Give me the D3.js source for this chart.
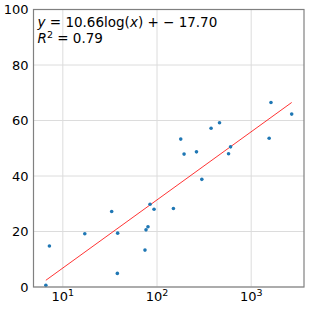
<!DOCTYPE html>
<html>
<head>
<meta charset="utf-8">
<script src="https://cdn.jsdelivr.net/npm/d3@7"></script>
<style>
  body { margin: 0; background: #fff; }
  svg { display: block; font-family: "DejaVu Sans", sans-serif; }
</style>
</head>
<body>
<div id="chart"></div>
<script>
// data
var xValues = [6.6, 7.2, 17.1, 33.0, 38.2, 37.9, 74.5, 76.4, 80.2, 84.3, 93.0, 149.3,
  178.6, 193.8, 262.4, 299, 375, 461, 575, 604, 1552, 1622, 2692];
var yValues = [0.6, 14.8, 19.2, 27.2, 19.4, 4.9, 13.3, 20.6, 21.7, 29.8, 28.0, 28.3,
  53.3, 47.9, 48.7, 38.8, 57.2, 59.2, 48.0, 50.5, 53.6, 66.5, 62.3];
var fitCoef = [10.66, -17.70]; // y = a*ln(x) + b
var rSquared = 0.79;
var xTicks = [10, 100, 1000];
var xTickExp = ['1', '2', '3'];
var yTicks = [0, 20, 40, 60, 80, 100];

var attrs = {
  svgWidth: 309,
  svgHeight: 309,
  marginTop: 9.5,
  marginLeft: 33.5,
  marginRight: 5,
  marginBottom: 22
};

var calc = {};
calc.chartWidth = attrs.svgWidth - attrs.marginLeft - attrs.marginRight;
calc.chartHeight = attrs.svgHeight - attrs.marginTop - attrs.marginBottom;

var points = xValues.map(function (x, i) { return { x: x, y: yValues[i] }; });

var scales = {};
scales.x = d3.scaleLog().domain([4.88, 3637]).range([0, calc.chartWidth]);
scales.y = d3.scaleLinear().domain([0, 100]).range([calc.chartHeight, 0]);

var svg = d3.select('#chart').append('svg')
  .attr('width', attrs.svgWidth)
  .attr('height', attrs.svgHeight);

var chart = svg.append('g')
  .attr('transform', 'translate(' + attrs.marginLeft + ',' + attrs.marginTop + ')');

// grid
chart.append('g').selectAll('line').data(xTicks).enter().append('line')
  .attr('x1', function (d) { return scales.x(d); })
  .attr('x2', function (d) { return scales.x(d); })
  .attr('y1', 0).attr('y2', calc.chartHeight)
  .attr('stroke', '#dcdcdc').attr('stroke-width', 1);
chart.append('g').selectAll('line').data(yTicks).enter().append('line')
  .attr('y1', function (d) { return scales.y(d); })
  .attr('y2', function (d) { return scales.y(d); })
  .attr('x1', 0).attr('x2', calc.chartWidth)
  .attr('stroke', '#dcdcdc').attr('stroke-width', 1);

// fit line
var xExt = d3.extent(xValues);
var fitLine = d3.line()
  .x(function (d) { return scales.x(d); })
  .y(function (d) { return scales.y(fitCoef[0] * Math.log(d) + fitCoef[1]); });
chart.append('path')
  .datum(xExt)
  .attr('d', fitLine)
  .attr('fill', 'none')
  .attr('stroke', '#ff0000')
  .attr('stroke-width', 0.8);

// points
chart.append('g').selectAll('circle').data(points).enter().append('circle')
  .attr('cx', function (d) { return scales.x(d.x); })
  .attr('cy', function (d) { return scales.y(d.y); })
  .attr('r', 1.8)
  .attr('fill', '#1f77b4');

// frame
chart.append('rect')
  .attr('width', calc.chartWidth).attr('height', calc.chartHeight)
  .attr('fill', 'none').attr('stroke', '#808080').attr('stroke-width', 1.2);

// y tick labels
chart.append('g').selectAll('text').data(yTicks).enter().append('text')
  .attr('x', -5)
  .attr('y', function (d) { return scales.y(d); })
  .attr('dy', '0.36em')
  .attr('text-anchor', 'end')
  .attr('font-size', 13)
  .attr('fill', '#000')
  .text(function (d) { return d; });

// x tick labels
var xl = chart.append('g').selectAll('text').data(xTicks).enter().append('text')
  .attr('x', function (d) { return scales.x(d); })
  .attr('y', calc.chartHeight + 14)
  .attr('text-anchor', 'middle')
  .attr('font-size', 13)
  .attr('fill', '#000');
xl.append('tspan').text('10');
xl.append('tspan').attr('dy', -5).attr('font-size', 9.5)
  .text(function (d, i) { return xTickExp[i]; });

// annotation
var ann = chart.append('g').attr('font-size', 13.5).attr('fill', '#000');
var l1 = ann.append('text').attr('x', 4).attr('y', 17);
l1.append('tspan').attr('font-style', 'italic').text('y');
l1.append('tspan').text(' = ' + fitCoef[0].toFixed(2) + 'log(');
l1.append('tspan').attr('font-style', 'italic').text('x');
l1.append('tspan').text(') + \u2212 ' + Math.abs(fitCoef[1]).toFixed(2));
var l2 = ann.append('text').attr('x', 4).attr('y', 33);
l2.append('tspan').attr('font-style', 'italic').text('R');
l2.append('tspan').attr('dy', -5).attr('font-size', 9.5).text('2');
l2.append('tspan').attr('dy', 5).text(' = ' + rSquared.toFixed(2));
</script>
</body>
</html>
